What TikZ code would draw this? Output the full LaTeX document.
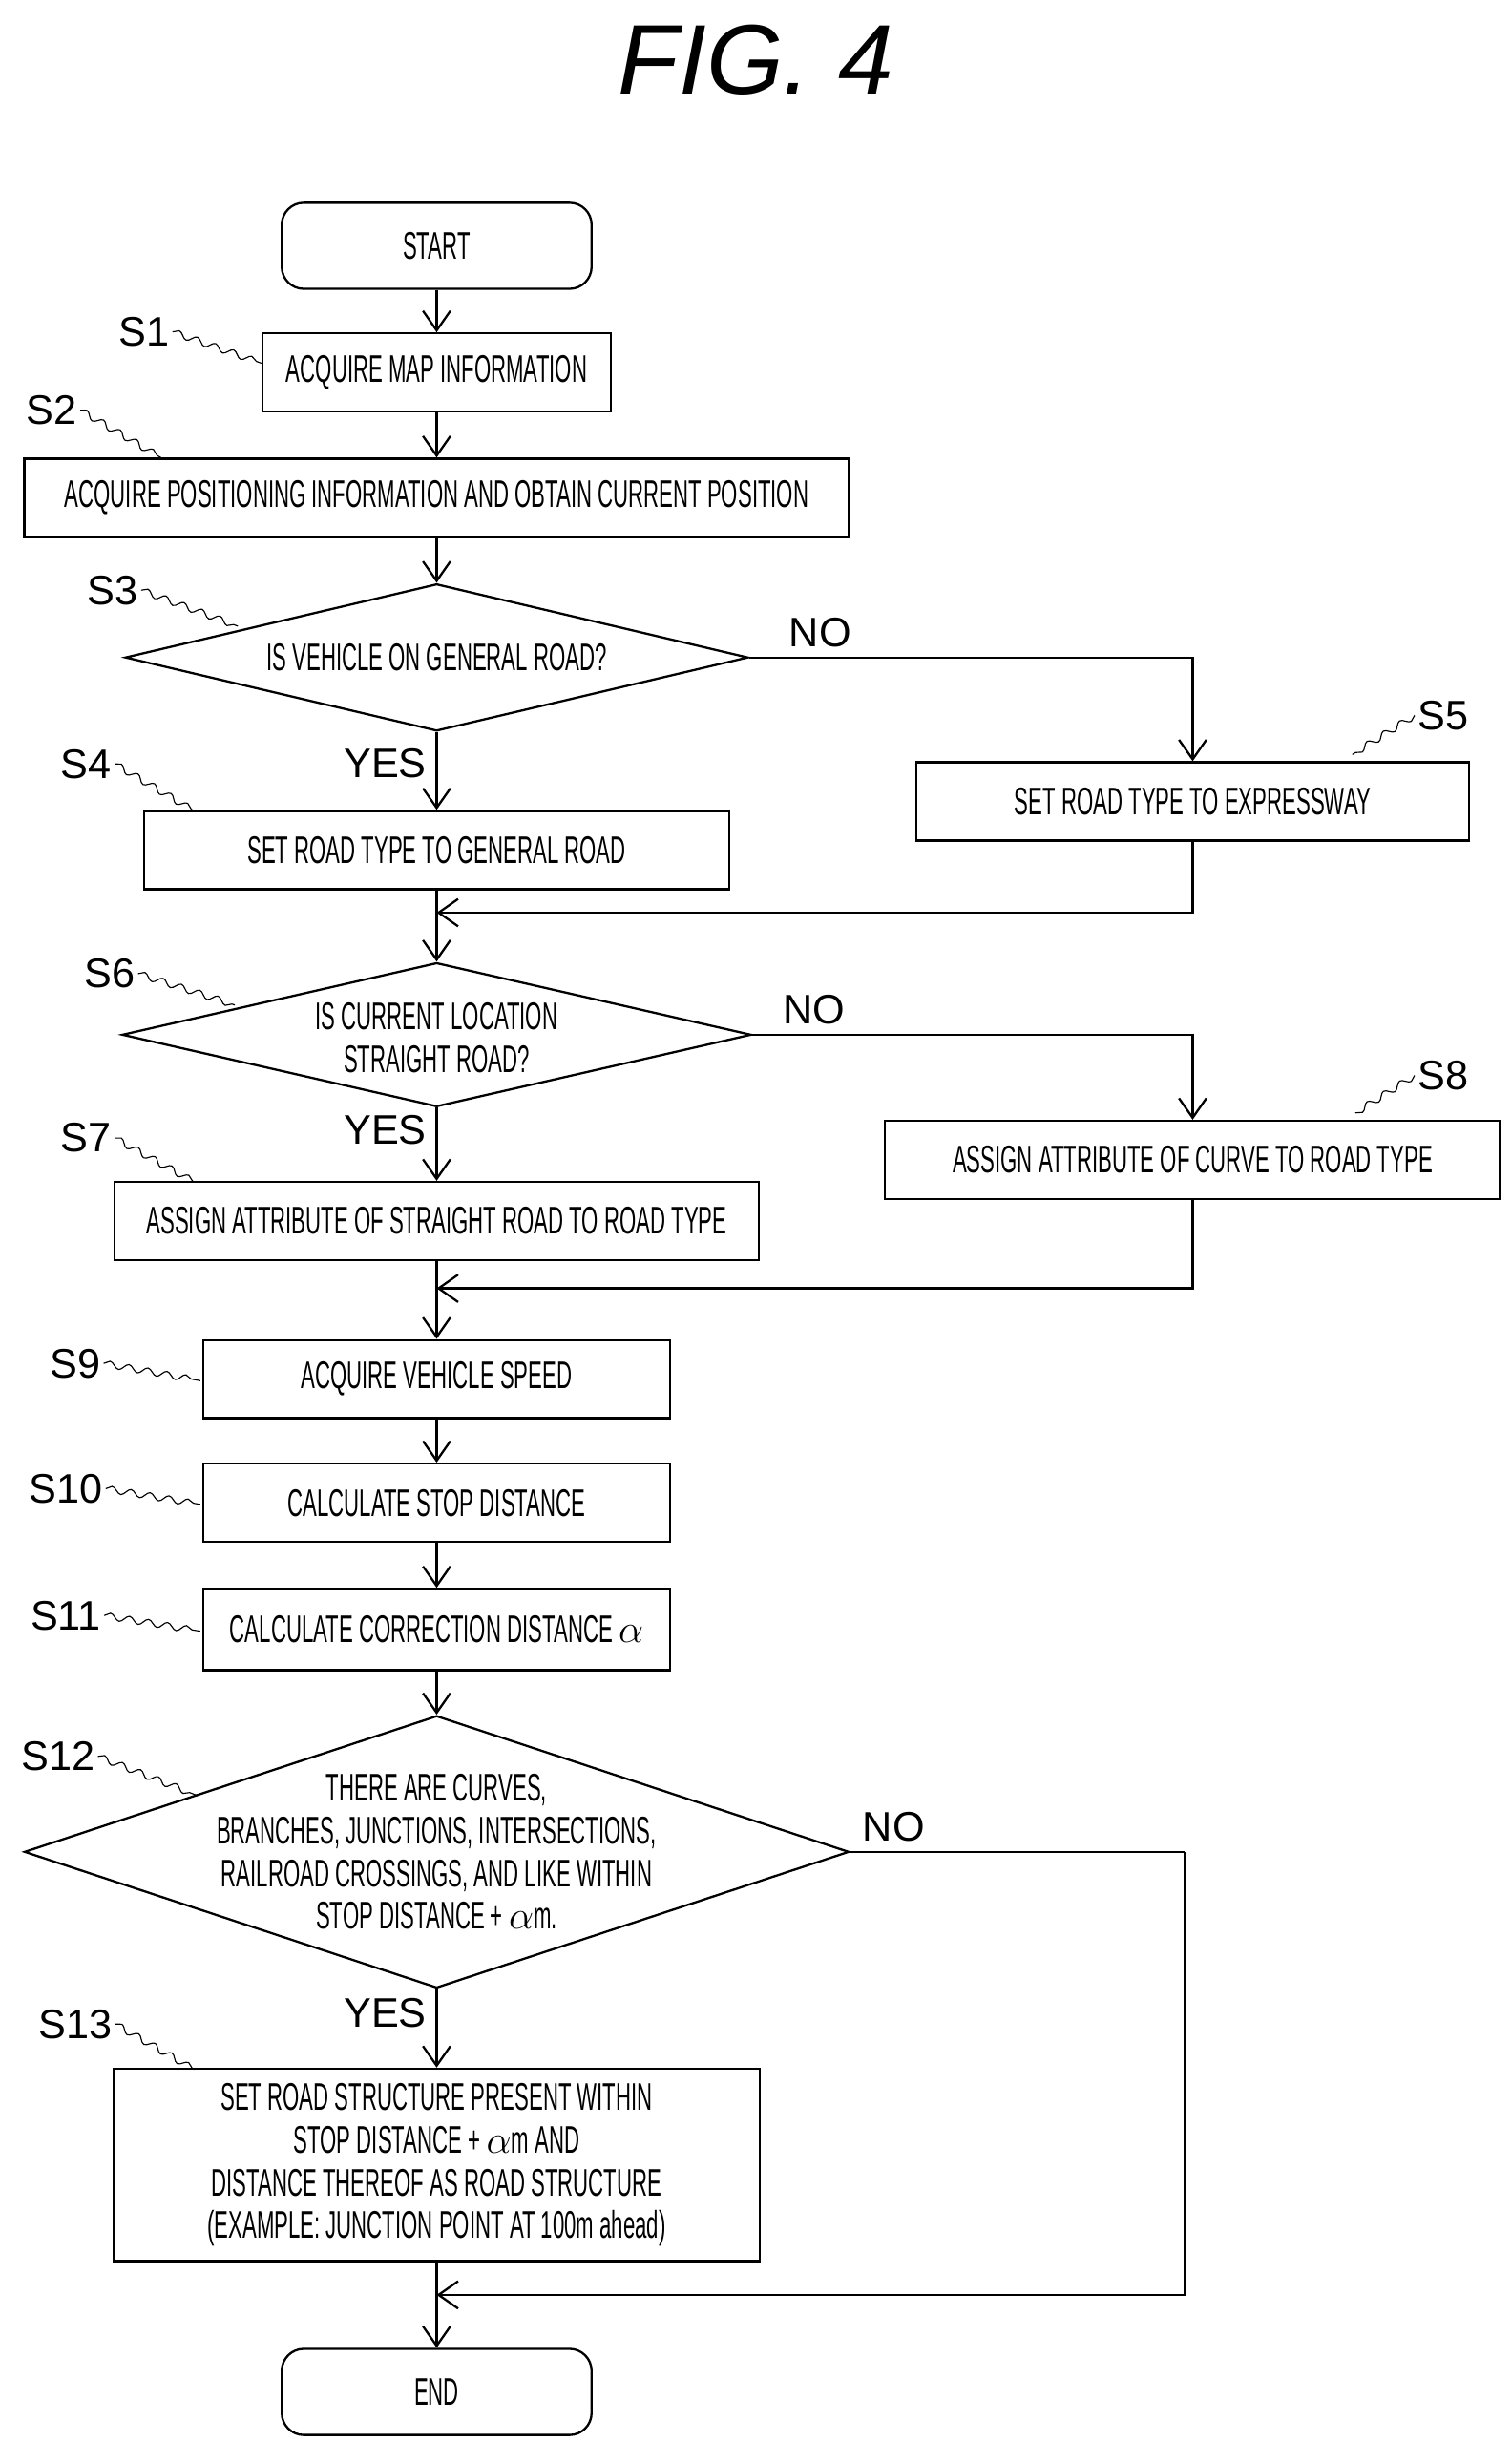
\documentclass[tikz,border=0pt]{standalone}
\usepackage{fontspec}
\setsansfont{Liberation Sans}[FakeStretch=0.55]
\newfontfamily\titlefont{Liberation Sans}
\usetikzlibrary{shapes.geometric,arrows.meta,decorations.pathmorphing}
\tikzset{
box/.style={draw, thick, align=center, inner sep=0pt, font=\sffamily\fontsize{14}{15}\selectfont},
term/.style={box, rounded corners=8pt},
dia/.style={draw, thick, diamond, inner sep=0pt},
txt/.style={align=center, inner sep=0pt, font=\sffamily\fontsize{14}{15.5}\selectfont},
steplbl/.style={inner sep=1pt, font=\titlefont\fontsize{15}{15}\selectfont},
wig/.style={decorate, decoration={snake, amplitude=1.2pt, segment length=7pt}},
flow/.style={thick, -{Straight Barb[length=2.5mm,width=3.5mm]}},
ans/.style={font=\titlefont\fontsize{15}{15}\selectfont}
}
\begin{document}
\begin{tikzpicture}[x=0.02cm, y=-0.02cm]
\useasboundingbox (0,0) rectangle (966,1560);

\node[font=\titlefont\itshape\fontsize{36}{36}\selectfont] (title) at (483,38) {FIG. 4};

% boxes
\node[term, minimum width=3.96cm, minimum height=1.1cm] (start) at (279,157) {START};
\node[box, minimum width=4.46cm, minimum height=1cm] (s1) at (279,238) {ACQUIRE MAP INFORMATION};
\node[box, minimum width=10.54cm, minimum height=1cm] (s2) at (279,318) {ACQUIRE POSITIONING INFORMATION AND OBTAIN CURRENT POSITION};
\node[dia, minimum width=7.96cm, minimum height=1.88cm] (s3) at (279,420) {};
\node[txt] (t3) at (279,420) {IS VEHICLE ON GENERAL ROAD?};
\node[box, minimum width=7.48cm, minimum height=1cm] (s4) at (279,543) {SET ROAD TYPE TO GENERAL ROAD};
\node[box, minimum width=7.06cm, minimum height=1cm] (s5) at (762,512) {SET ROAD TYPE TO EXPRESSWAY};
\node[dia, minimum width=8.04cm, minimum height=1.84cm] (s6) at (279,661) {};
\node[txt] (t6) at (279,663) {IS CURRENT LOCATION\\STRAIGHT ROAD?};
\node[box, minimum width=8.24cm, minimum height=1cm] (s7) at (279,780) {ASSIGN ATTRIBUTE OF STRAIGHT ROAD TO ROAD TYPE};
\node[box, minimum width=7.86cm, minimum height=1cm] (s8) at (762,741) {ASSIGN ATTRIBUTE OF CURVE TO ROAD TYPE};
\node[box, minimum width=5.96cm, minimum height=1cm] (s9) at (279,881) {ACQUIRE VEHICLE SPEED};
\node[box, minimum width=5.96cm, minimum height=1cm] (s10) at (279,960) {CALCULATE STOP DISTANCE};
\node[box, minimum width=5.96cm, minimum height=1.04cm] (s11) at (279,1041) {CALCULATE CORRECTION DISTANCE $\alpha$};
\node[dia, minimum width=10.54cm, minimum height=3.48cm] (s12) at (279,1183) {};
\node[txt] (t12) at (279,1183) {THERE ARE CURVES,\\BRANCHES, JUNCTIONS, INTERSECTIONS,\\RAILROAD CROSSINGS, AND LIKE WITHIN\\STOP DISTANCE + $\alpha$m.};
\node[box, minimum width=8.26cm, minimum height=2.46cm, font=\sffamily\fontsize{14}{15.5}\selectfont] (s13) at (279,1383) {SET ROAD STRUCTURE PRESENT WITHIN\\STOP DISTANCE + $\alpha$m AND\\DISTANCE THEREOF AS ROAD STRUCTURE\\(EXAMPLE: JUNCTION POINT AT 100m ahead)};
\node[term, minimum width=3.96cm, minimum height=1.1cm] (end) at (279,1528) {END};

% merge points
\coordinate (m1) at (279,583);
\coordinate (m2) at (279,823);
\coordinate (m3) at (279,1466);
\coordinate (r12) at (757,1183);

% step labels
\node[steplbl] (l1) at (92,212) {S1};
\node[steplbl] (l2) at (33,262) {S2};
\node[steplbl] (l3) at (72,377) {S3};
\node[steplbl] (l4) at (55,488) {S4};
\node[steplbl] (l5) at (922,457) {S5};
\node[steplbl] (l6) at (70,622) {S6};
\node[steplbl] (l7) at (55,727) {S7};
\node[steplbl] (l8) at (922,687) {S8};
\node[steplbl] (l9) at (48,871) {S9};
\node[steplbl] (l10) at (42,951) {S10};
\node[steplbl] (l11) at (42,1032) {S11};
\node[steplbl] (l12) at (37,1122) {S12};
\node[steplbl] (l13) at (48,1293) {S13};

\draw[wig] (l1.east) -- (167,232);
\draw[wig] (l2.east) -- (104,293);
\draw[wig] (l3.east) -- (152,400);
\draw[wig] (l4.east) -- (124,518);
\draw[wig] (l5.west) -- (864,482);
\draw[wig] (l6.east) -- (150,642);
\draw[wig] (l7.east) -- (124,755);
\draw[wig] (l8.west) -- (866,711);
\draw[wig] (l9.east) -- (128,882);
\draw[wig] (l10.east) -- (128,961);
\draw[wig] (l11.east) -- (128,1042);
\draw[wig] (l12.east) -- (126,1147);
\draw[wig] (l13.east) -- (124,1322);

% connectors
\draw[flow] (start) -- (s1);
\draw[flow] (s1) -- (s2);
\draw[flow] (s2) -- (s3);
\draw[flow] (s3.south) -- node[ans, pos=0.4, left] {YES} (s4);
\draw[flow] (s3.east) -| node[ans, pos=0.08, above] {NO} (s5.north);
\draw[flow] (s4) -- (s6);
\draw[flow] (s5.south) |- (m1);
\draw[flow] (s6.south) -- node[ans, pos=0.3, left] {YES} (s7);
\draw[flow] (s6.east) -| node[ans, pos=0.07, above] {NO} (s8.north);
\draw[flow] (s7) -- (s9);
\draw[flow] (s8.south) |- (m2);
\draw[flow] (s9) -- (s10);
\draw[flow] (s10) -- (s11);
\draw[flow] (s11) -- (s12);
\draw[flow] (s12.south) -- node[ans, pos=0.3, left] {YES} (s13);
\draw[thick] (s12.east) -- node[ans, pos=0.13, above] {NO} (r12);
\draw[flow] (r12) |- (m3);
\draw[flow] (s13) -- (end);
\end{tikzpicture}
\end{document}
